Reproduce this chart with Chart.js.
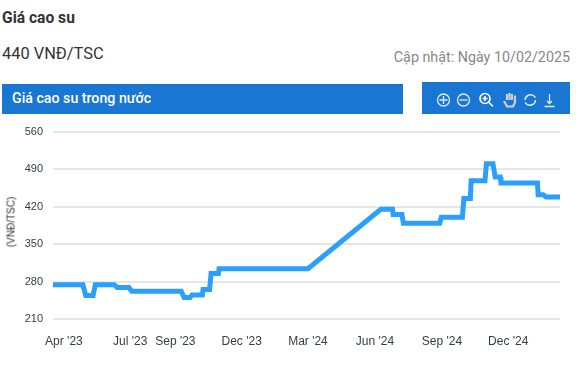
<!DOCTYPE html>
<html lang="vi">
<head>
<meta charset="utf-8">
<title>Giá cao su</title>
<script src="https://cdn.jsdelivr.net/npm/chart.js@4"></script>
<style>
  html, body { margin: 0; padding: 0; background: #fff; }
  body { width: 581px; height: 365px; position: relative; overflow: hidden; font-family: Roboto, sans-serif; }
  .abs { position: absolute; white-space: nowrap; }
  #title { left: 2px; top: 9px; font-size: 15.6px; line-height: 18px; font-weight: 700; color: #333; }
  #price { left: 2px; top: 44px; font-size: 16.4px; line-height: 20px; color: #333; }
  #updated { right: 11px; top: 48px; font-size: 14.3px; line-height: 18px; color: #888; }
  #bar { left: 2px; top: 84px; width: 391px; height: 30px; padding-left: 10px; background: #1976d2; color: #fff; font-size: 14.2px; font-weight: 500; line-height: 28px; }
  #tools { left: 422px; top: 82px; width: 148px; height: 32px; background: #1976d2; }
  #tools svg { position: absolute; left: 0; top: 0; }
  #chartBox { position: absolute; left: 0; top: 115px; width: 581px; height: 250px; }
  #yTitle { left: 11px; top: 222px; transform: translate(-50%, -50%) rotate(-90deg); font: 10px "Liberation Sans", Arial, sans-serif; color: #333; }
</style>
</head>
<body>
<div class="abs" id="title">Giá cao su</div>
<div class="abs" id="price">440 VNĐ/TSC</div>
<div class="abs" id="updated">Cập nhật: Ngày 10/02/2025</div>
<div class="abs" id="bar">Giá cao su trong nước</div>
<div class="abs" id="tools">
  <svg width="148" height="32" fill="none" stroke="#dfeaf6" stroke-width="1.3">
    <circle cx="21.5" cy="18" r="6"/><path d="M17.5 18h8M21.5 14v8"/>
    <circle cx="41.5" cy="18" r="6"/><path d="M37.5 18h8"/>
    <g stroke="#fff" stroke-width="1.6"><circle cx="63" cy="16.5" r="5"/><path d="M60.5 16.5h5M63 14v5M66.5 20l4.500 4.500"/></g>
    <path d="M82 19l3 5.500h6l2-4v-7M85 18v-6M87.500 18v-7M90 18v-6" stroke="#cfcfcf" stroke-width="2.2"/>
    <path d="M103 18a5.500 5.500 0 0 1 9-4l1.500 1.500M113.500 18a5.500 5.500 0 0 1-9 4l-1.500-1.500" stroke-width="1.5"/>
    <path d="M122.500 24.500h10M127.500 12v9M125 19l2.500 2.500 2.500-2.500"/>
  </svg>
</div>
<div id="chartBox"><canvas id="priceChart" width="581" height="250"></canvas></div>
<div class="abs" id="yTitle">(VNĐ/TSC)</div>

<script>
// dates and prices
const dates = [
  '2023-03-17', '2023-04-27', '2023-05-01', '2023-05-11', '2023-05-14', '2023-06-09',
  '2023-06-13', '2023-06-29', '2023-07-03', '2023-09-09',
  '2023-09-13', '2023-09-21', '2023-09-24', '2023-10-08', '2023-10-09', '2023-10-18',
  '2023-10-20', '2023-10-30', '2023-10-31', '2024-03-01', '2024-06-09', '2024-06-25',
  '2024-06-26', '2024-07-08', '2024-07-10', '2024-08-29', '2024-08-31', '2024-09-29',
  '2024-10-01', '2024-10-10', '2024-10-11', '2024-10-30', '2024-11-01', '2024-11-10',
  '2024-11-13', '2024-11-20', '2024-11-21', '2025-01-10', '2025-01-11', '2025-01-18',
  '2025-01-22', '2025-02-10'
];
const prices = [
  274, 274, 254, 254, 274, 274,
  269, 269, 262, 262,
  250, 250, 255, 255, 265, 265,
  295, 295, 304, 304, 415, 415,
  405, 405, 389, 389, 400, 400,
  435, 435, 468, 468, 500, 500,
  475, 475, 464, 464, 442, 442,
  438, 438
];
const tickDates = ['2023-04-01', '2023-07-01', '2023-09-01', '2023-12-01', '2024-03-01', '2024-06-01', '2024-09-01', '2024-12-01'];
const tickLabels = ["Apr '23", "Jul '23", "Sep '23", "Dec '23", "Mar '24", "Jun '24", "Sep '24", "Dec '24"];
const yMin = 210, yMax = 560, yStep = 70;

const toTime = d => new Date(d + 'T00:00:00Z').getTime();
const points = dates.map((d, i) => ({ x: toTime(d), y: prices[i] }));
const tickFont = { family: '"Liberation Sans", Arial, sans-serif' };

new Chart(document.getElementById('priceChart'), {
  type: 'line',
  data: {
    datasets: [{
      label: 'Giá cao su trong nước',
      data: points,
      borderColor: '#2a9ffb',
      borderWidth: 5,
      borderJoinStyle: 'miter',
      borderCapStyle: 'butt',
      pointRadius: 0,
      tension: 0,
      clip: false
    }]
  },
  options: {
    responsive: false,
    animation: false,
    layout: { padding: { top: 16, right: 21, bottom: 0, left: 0 } },
    plugins: { legend: { display: false }, tooltip: { enabled: false } },
    scales: {
      x: {
        type: 'linear',
        min: toTime(dates[0]),
        max: toTime(dates[dates.length - 1]),
        afterBuildTicks: axis => { axis.ticks = tickDates.map(d => ({ value: toTime(d) })); },
        afterFit: axis => { axis.height = 46; },
        grid: { display: false },
        border: { display: false },
        ticks: {
          autoSkip: false,
          maxRotation: 0,
          padding: 7,
          color: '#373d3f',
          font: { ...tickFont, size: 12 },
          callback: value => tickLabels[tickDates.findIndex(d => toTime(d) === value)]
        }
      },
      y: {
        min: yMin,
        max: yMax,
        afterFit: axis => { axis.width = 53; },
        grid: { color: '#e6e6e6', lineWidth: 2, drawTicks: false },
        border: { display: false },
        ticks: {
          stepSize: yStep,
          padding: 10,
          color: '#373d3f',
          font: { ...tickFont, size: 11 }
        }
      }
    }
  }
});
</script>
</body>
</html>
